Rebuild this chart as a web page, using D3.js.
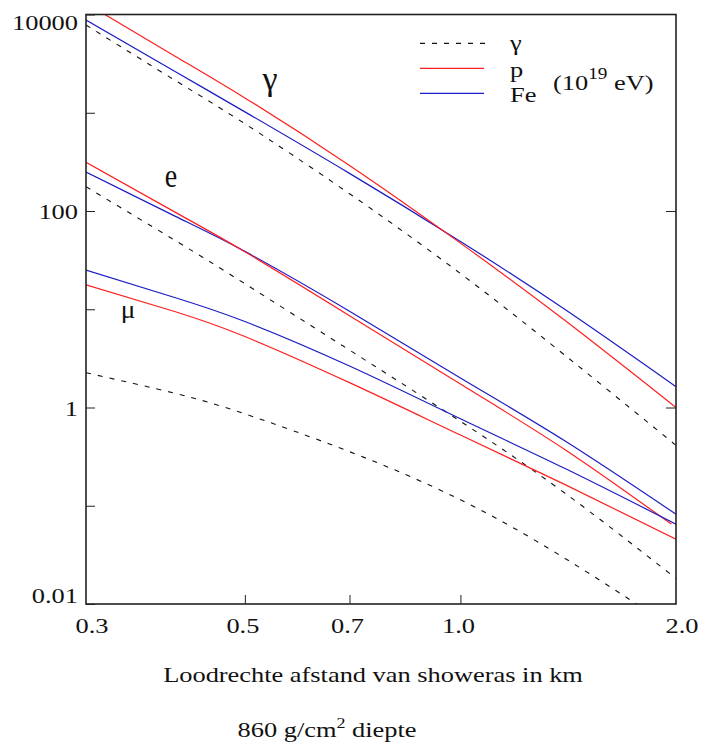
<!DOCTYPE html>
<html lang="nl">
<head>
<meta charset="utf-8">
<script src="https://d3js.org/d3.v7.min.js"></script>
<style>
  body { margin: 0; background: #fff; }
  svg text { font-family: "Liberation Serif", "Times New Roman", serif; fill: #111; }
</style>
</head>
<body>
<div id="chart"></div>
<script>
// afstand tot de showeras (km)
const afstand = [0.3, 0.4, 0.5, 0.7, 1.0, 1.4, 2.0];
const afstandElecP = [0.3, 0.4, 0.5, 0.7, 1.0, 1.4, 1.97];

// dichtheden: gem = gestreept (gamma-primair), p = rood, Fe = blauw
const gammaGem = [7820, 2125, 773, 150, 23.1, 3.39, 0.412];
const gammaP   = [13000, 3745, 1416, 291, 47.1, 7.67, 1.0];
const gammaFe  = [8790, 2616, 1021, 241.5, 49.0, 9.93, 1.63];

const elecGem = [176.6, 49.9, 18.2, 3.84, 0.724, 0.134, 0.0182];
const elecP   = [313, 96.8, 38.5, 8.61, 1.73, 0.372, 0.065];
const elecFe  = [249, 88.1, 38.8, 9.55, 2.0, 0.456, 0.082];

const muonGem = [2.26, 1.39, 0.861, 0.355, 0.115, 0.0291, 0.00546];
const muonP   = [17.7, 9.44, 5.28, 1.79, 0.524, 0.164, 0.0457];
const muonFe  = [25.0, 13.1, 7.50, 2.64, 0.767, 0.239, 0.0649];

// as-labels
const xTicks = [0.3, 0.5, 0.7, 1.0, 2.0];
const xTickLabels = ["0.3", "0.5", "0.7", "1.0", "2.0"];
const yTicks = [10000, 100, 1, 0.01];
const yTickLabels = ["10000", "100", "1", "0.01"];
const yMinor = [1000, 10, 0.1];

const legendLabels = ["\u03b3", "p", "Fe"];
const curveLabels = ["\u03b3", "e", "\u03bc"];

const colours = { gem: "#111", p: "#ff1f1f", fe: "#1c1cc4" };

const series = [
  { x: afstand, y: gammaGem, kind: "gem" },
  { x: afstand, y: gammaFe, kind: "fe" },
  { x: afstand, y: gammaP, kind: "p" },
  { x: afstand, y: elecGem, kind: "gem" },
  { x: afstand, y: elecFe, kind: "fe" },
  { x: afstandElecP, y: elecP, kind: "p" },
  { x: afstand, y: muonGem, kind: "gem" },
  { x: afstand, y: muonFe, kind: "fe" },
  { x: afstand, y: muonP, kind: "p" }
];

const width = 701, height = 750;
const margin = { top: 14.5, right: 25, bottom: 146, left: 86 };
const sx = 1.2; // tekst is horizontaal wat breder in het origineel

const svg = d3.select("#chart").append("svg")
  .attr("width", width)
  .attr("height", height);

const x = d3.scaleLog()
  .domain([0.3, 2.0])
  .range([margin.left, width - margin.right]);

const y = d3.scaleLog()
  .domain([0.01, 10000])
  .range([height - margin.bottom, margin.top]);

function label(g, px, py, size, anchor, stretch) {
  const s = stretch === undefined ? sx : stretch;
  return g.append("text")
    .attr("transform", "translate(" + px + "," + py + ") scale(" + s + ",1)")
    .attr("text-anchor", anchor)
    .style("font-size", size + "px");
}

svg.append("clipPath").attr("id", "plot")
  .append("rect")
  .attr("x", x.range()[0]).attr("y", y.range()[1])
  .attr("width", x.range()[1] - x.range()[0])
  .attr("height", y.range()[0] - y.range()[1]);

// curves
const line = d3.line()
  .x(function(d) { return x(d[0]); })
  .y(function(d) { return y(d[1]); })
  .curve(d3.curveNatural);

svg.append("g")
  .attr("clip-path", "url(#plot)")
  .selectAll("path")
  .data(series)
  .join("path")
  .attr("d", function(s) { return line(d3.zip(s.x, s.y)); })
  .attr("fill", "none")
  .attr("stroke", function(s) { return colours[s.kind]; })
  .attr("stroke-width", function(s) { return s.kind === "gem" ? 1.1 : 1.2; })
  .attr("stroke-dasharray", function(s) { return s.kind === "gem" ? "5,7" : null; });

// ticks
svg.append("g")
  .attr("transform", "translate(0," + y.range()[0] + ")")
  .call(d3.axisBottom(x).tickValues([0.5, 0.7, 1.0]).tickSize(-9).tickFormat(""))
  .call(function(g) { g.select(".domain").remove(); })
  .selectAll("line").attr("stroke", "#222");

svg.append("g")
  .attr("transform", "translate(" + x.range()[0] + ",0)")
  .call(d3.axisLeft(y).tickValues(yTicks.concat(yMinor)).tickSize(-9).tickFormat(""))
  .call(function(g) { g.select(".domain").remove(); })
  .selectAll("line").attr("stroke", "#222");

svg.append("g")
  .attr("transform", "translate(" + x.range()[1] + ",0)")
  .call(d3.axisRight(y).tickValues([100, 1]).tickSize(-10).tickFormat(""))
  .call(function(g) { g.select(".domain").remove(); })
  .selectAll("line").attr("stroke", "#222");

// frame
svg.append("rect")
  .attr("x", x.range()[0]).attr("y", y.range()[1])
  .attr("width", x.range()[1] - x.range()[0])
  .attr("height", y.range()[0] - y.range()[1])
  .attr("fill", "none")
  .attr("stroke", "#222")
  .attr("stroke-width", 1.6);

// tick labels
const tl = svg.append("g");
xTicks.forEach(function(v, i) {
  const ends = (v === x.domain()[0] || v === x.domain()[1]);
  label(tl, x(v) + (ends ? 6 : -2), 633, 22, "middle").text(xTickLabels[i]);
});
yTicks.forEach(function(v, i) {
  const by = Math.max(30, Math.min(603, y(v) + 8));
  label(tl, 78, by, 22, "end").text(yTickLabels[i]);
});

// titles
label(svg, 373, 682, 22, "middle").text("Loodrechte afstand van showeras in km");
const t2 = label(svg, 327, 737, 22, "middle");
t2.append("tspan").text("860 g/cm");
t2.append("tspan").attr("dy", -9).style("font-size", "15px").text("2");
t2.append("tspan").attr("dy", 9).text(" diepte");

// curve labels
label(svg, 270, 90, 34, "middle", 1).text(curveLabels[0]);
label(svg, 171, 187, 33, "middle", 0.85).text(curveLabels[1]);
label(svg, 128, 318, 26, "middle", 1.05).text(curveLabels[2]);

// legend
const leg = svg.append("g");
const legKinds = ["gem", "p", "fe"];
const legY = [43.3, 68.3, 93.3];
const legBase = [50, 77, 102];
legKinds.forEach(function(k, i) {
  leg.append("line")
    .attr("x1", 420).attr("x2", k === "gem" ? 490 : 484)
    .attr("y1", legY[i]).attr("y2", legY[i])
    .attr("stroke", colours[k])
    .attr("stroke-width", 1.2)
    .attr("stroke-dasharray", k === "gem" ? "5,7" : null);
  label(leg, 510, legBase[i], 22, "start").text(legendLabels[i]);
});
const en = label(leg, 553, 90, 22, "start");
en.append("tspan").text("(10");
en.append("tspan").attr("dy", -11).style("font-size", "16px").text("19");
en.append("tspan").attr("dy", 11).text(" eV)");
</script>
</body>
</html>
